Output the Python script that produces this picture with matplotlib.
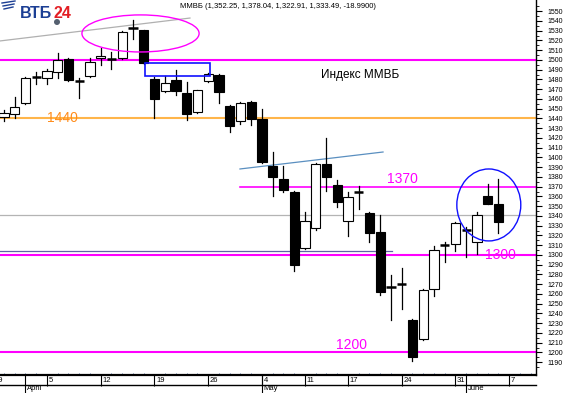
import matplotlib
matplotlib.use('Agg')
import matplotlib.pyplot as plt
from matplotlib.patches import Rectangle, Ellipse

plt.rcParams['font.family'] = ['Liberation Sans', 'DejaVu Sans']

# daily MICEX candles, 30 Mar 2010 .. 4 Jun 2010 (trading-day index)
opens  = [1442, 1445, 1456, 1483, 1482, 1488, 1501, 1478, 1484, 1502,
          1501, 1502, 1533, 1531, 1480, 1468, 1479, 1466, 1447, 1478,
          1485, 1453, 1437, 1457, 1439, 1391, 1378, 1365, 1307, 1328,
          1393, 1372, 1335, 1365, 1343, 1324, 1267, 1270, 1233, 1214,
          1265, 1310, 1311, 1326, 1313, 1360, 1352.25]
highs  = [1449, 1462, 1483, 1488, 1491, 1507, 1502, 1481, 1502, 1512,
          1508, 1530, 1541, 1531, 1483, 1484, 1490, 1477, 1469, 1487,
          1486, 1454, 1457, 1458, 1450, 1406, 1391, 1366, 1344, 1394,
          1420, 1377, 1365, 1371, 1344, 1341, 1279, 1287, 1234, 1265,
          1309, 1313, 1334, 1329, 1344, 1373, 1378.04]
lows   = [1437, 1440, 1455, 1475, 1475, 1481, 1478, 1461, 1483, 1495,
          1491, 1501, 1521, 1496, 1440, 1467, 1464, 1438, 1446, 1477,
          1456, 1426, 1434, 1433, 1394, 1360, 1365, 1284, 1306, 1326,
          1366, 1349, 1319, 1347, 1313, 1259, 1233, 1245, 1191, 1213,
          1258, 1293, 1304, 1298, 1301, 1352, 1322.91]
closes = [1446, 1452, 1482, 1483, 1489, 1500, 1479, 1478, 1498, 1504,
          1501, 1529, 1533, 1497, 1460, 1476, 1468, 1445, 1469, 1486,
          1467, 1432, 1456, 1439, 1395, 1380, 1367, 1290, 1335, 1393,
          1380, 1354, 1359, 1365, 1323, 1262, 1267, 1270, 1195, 1264,
          1305, 1310, 1333, 1326, 1341, 1352.48, 1333.49]

week_pos = [-1, 4, 9, 14, 19, 24, 28, 32, 37, 42, 47]
week_lbl = ['29', '5', '12', '19', '26', '4', '11', '17', '24', '31', '7']
month_pos = [2, 24, 43]
month_lbl = ['April', 'May', 'June']

levels_full = [1500, 1440, 1300, 1200]
level_colors = ['#ff00ff', '#ffb54a', '#ff00ff', '#ff00ff']

fig = plt.figure(figsize=(5.68, 3.93), dpi=100)
ax = fig.add_axes([0, 18 / 393, 536 / 568, 375 / 393])

# drawn levels and trend lines
for lv, c in zip(levels_full, level_colors):
    ax.axhline(lv, color=c, lw=1.5, zorder=1)
ax.plot([22.0, 49.5], [1370, 1370], color='#ff00ff', lw=1.2, zorder=1)
ax.plot([-0.4, 49.5], [1341, 1341], color='#b4b4b4', lw=0.9, zorder=1)
ax.plot([-0.4, 36.1], [1304, 1304], color='#6060a8', lw=0.9, zorder=1)
ax.plot([-0.37, 17.3], [1519.5, 1543], color='#b0b0b0', lw=0.9, zorder=1)
ax.plot([21.95, 35.26], [1388.2, 1405.6], color='#5a8fc0', lw=0.9, zorder=1)

ax.text(5.4, 1440, '1440', color='#ff8c1a', fontsize=10, ha='center', va='center', zorder=1)
ax.text(37.1, 1371, '1370', color='#ff00ff', fontsize=10, ha='center', va='bottom')
ax.text(32.3, 1201, '1200', color='#ff00ff', fontsize=10, ha='center', va='bottom')
ax.text(46.2, 1300, '1300', color='#ff00ff', fontsize=10, ha='center', va='center', zorder=1)
ax.text(33.1, 1484.6, 'Индекс ММВБ', color='black', fontsize=8.5, ha='center', va='center')

# candles
w = 0.85
for i, (o, h, l, c) in enumerate(zip(opens, highs, lows, closes)):
    ax.plot([i, i], [l, h], color='black', lw=0.9, zorder=3)
    if abs(c - o) < 1.5:
        ax.plot([i - w / 2, i + w / 2], [c, c], color='black', lw=1.8, zorder=4,
                solid_capstyle='butt')
    else:
        fc = 'white' if c > o else 'black'
        ax.add_patch(Rectangle((i - w / 2, min(o, c)), w, abs(c - o),
                               facecolor=fc, edgecolor='black', lw=0.8, zorder=4))

# marks on the chart
ax.add_patch(Ellipse((12.7, 1527.2), 10.9, 38, fill=False, edgecolor='#ff00ff', lw=1, zorder=5))
ax.add_patch(Rectangle((13.12, 1483.6), 6.04, 12.8, fill=False, edgecolor='#1010ff', lw=1.2, zorder=5))
ax.add_patch(Ellipse((45.1, 1351.3), 5.95, 73.8, fill=False, edgecolor='#1010ff', lw=1, zorder=5))

# axes
for s in ['top', 'left']:
    ax.spines[s].set_visible(False)
ax.spines['bottom'].set_linewidth(1.6)
ax.spines['right'].set_linewidth(1)
ax.yaxis.tick_right()
ax.set_yticks(range(1190, 1551, 10))
ax.set_yticks(range(1185, 1561, 10), minor=True)
ax.tick_params(axis='y', which='major', length=4, width=0.8, pad=4, labelsize=5)
ax.tick_params(axis='y', which='minor', length=2, width=0.6)

ax.set_xticks(week_pos)
ax.set_xticklabels([])
ax.set_xticks(range(0, 50), minor=True)
ax.tick_params(axis='x', which='major', length=8, width=0.8, direction='out')
ax.tick_params(axis='x', which='minor', length=1.5, width=0.6, direction='in', color='#4060a0')

# limits last, set_xticks would widen them
ax.set_xlim(-0.372, 49.49)
ax.set_ylim(1176.9, 1561.5)

tr = ax.get_xaxis_transform()
ax.plot([0, 1], [-10 / 375, -10 / 375], transform=ax.transAxes, color='black', lw=1, clip_on=False)
for p, t in zip(week_pos, week_lbl):
    ax.text(p + 0.15, -5 / 375, t, transform=tr, fontsize=5.5, ha='left', va='center', clip_on=False)
for p, t in zip(month_pos, month_lbl):
    ax.plot([p, p], [0, -18 / 375], transform=tr, color='black', lw=0.8, clip_on=False)
    ax.text(p + 0.15, -14 / 375, t, transform=tr, fontsize=5.5, ha='left', va='center', clip_on=False)

# header
fig.text(180 / 568, 1 - 7 / 393, 'ММВБ (1,352.25, 1,378.04, 1,322.91, 1,333.49, -18.9900)',
         fontsize=5.5, ha='left', va='center')
fig.text(20 / 568, 1 - 18 / 393, 'ВТБ', fontsize=11.5, fontweight='bold', color='#1c3f94',
         ha='left', va='baseline')
fig.text(53 / 568, 1 - 18 / 393, '24', fontsize=11.5, fontweight='bold', color='#e31e24',
         ha='left', va='baseline')
for k in range(3):
    fig.add_artist(plt.Line2D([(2 + k) / 568, (15 - k) / 568],
                              [1 - (3 + 3 * k) / 393, 1 - (1 + 3 * k) / 393],
                              color='#1c3f94', lw=1))
fig.add_artist(Ellipse((57 / 568, 1 - 22 / 393), 6 / 568, 6 / 393, facecolor='#556070',
                       edgecolor='none', transform=fig.transFigure))

fig.savefig('out.png', dpi=100)
